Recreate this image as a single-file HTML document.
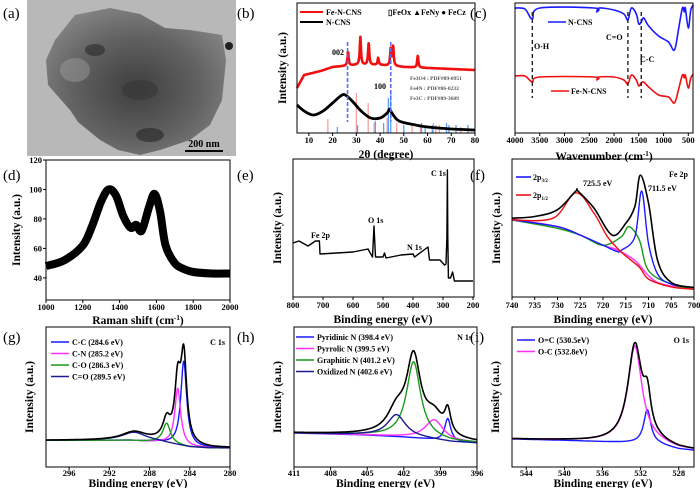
<!DOCTYPE html>
<html><head><meta charset="utf-8">
<style>
html,body{margin:0;padding:0;background:#fff;}
svg{display:block;font-family:"Liberation Serif",serif;}
.tk{font-size:8.5px;font-weight:bold;}
.ti{font-size:11.5px;font-weight:bold;}
.pl{font-size:15px;}
.lg{font-size:8px;font-weight:bold;}
</style></head>
<body>
<svg id="fig" width="700" height="488" viewBox="0 0 700 488">
<defs>
<radialGradient id="tem" cx="0.5" cy="0.55" r="0.6">
<stop offset="0" stop-color="#3e3e3e"/><stop offset="0.6" stop-color="#626262"/><stop offset="1" stop-color="#848484"/>
</radialGradient>
</defs>
<g>
<rect x="27" y="0" width="209" height="156" fill="#b8b8b8"/>
<path d="M55,40 L75,15 L110,8 L140,14 L165,28 L190,30 L222,35 L226,60 L222,100 L210,125 L190,140 L160,150 L140,155 L118,150 L100,140 L78,122 L70,110 L48,85 L46,60 Z" fill="url(#tem)"/>
<ellipse cx="95" cy="50" rx="10" ry="6" fill="#2a2a2a" opacity="0.6"/>
<ellipse cx="150" cy="135" rx="14" ry="7" fill="#262626" opacity="0.6"/>
<ellipse cx="140" cy="90" rx="18" ry="10" fill="#333" opacity="0.5"/>
<ellipse cx="75" cy="70" rx="15" ry="12" fill="#9a9a9a" opacity="0.5"/>
<circle cx="229" cy="46" r="4" fill="#222"/>
<line x1="185" y1="151" x2="223" y2="151" stroke="#000" stroke-width="2"/>
<text x="204" y="147" text-anchor="middle" style="font-size:10px;font-weight:bold">200 nm</text>
</g>
<text class="pl" x="3" y="18">(a)</text>
<text class="pl" x="237" y="18">(b)</text>
<text class="pl" x="470" y="18">(c)</text>
<text class="pl" x="3" y="180">(d)</text>
<text class="pl" x="237" y="180">(e)</text>
<text class="pl" x="470" y="180">(f)</text>
<text class="pl" x="3" y="342">(g)</text>
<text class="pl" x="237" y="342">(h)</text>
<text class="pl" x="470" y="342">(i)</text>
</svg>
<script>
// ---- (b) XRD data ----
const xrdRedBaseX=[5,8,15,20,30,40,50,60,70,80];
const xrdRedBaseY=[45,58,62,66,68,68,66,65,64,63];
const xrdRedPeakPos=[26.5,31.7,35.2,39.2,44.5,45.5,55.9];
const xrdRedPeakH=[14,28,22,7,17,19,12];
const xrdBlackX=[5,8,12,16,20,24,26,29,32,36,40,43,44,45,48,55,60,70,80];
const xrdBlackY=[28,22,18,22,30,38,37,30,22,15,15,20,24,20,12,8,6,4,3];
const refFe3O4Pos=[18,30,35,37.5,43,47,53.5,57,62.5,63.5,65,74];
const refFe3O4H=[14,40,30,10,15,10,8,8,10,8,8,6];
const refFe4NPos=[22,30.5,38,41.5,43.5,44.5,50,57.5,59,62,68,69,72,77];
const refFe4NH=[6,8,12,10,35,40,8,10,6,8,10,8,8,8];
const xrdTicks=[10,20,30,40,50,60,70,80];
// ---- (c) FTIR ----
const ftirX=[4000,3800,3650,3500,2400,2350,2300,2000,1800,1720,1650,1550,1500,1450,1400,1300,1100,900,780,700,620,580,560,500,450,400];
const ftirBlue=[125,124,114,125,125,121,125,123,119,113,125,119,109,111,115,107,97,91,83,103,125,121,125,105,123,128];
const ftirRed=[57,57,51,56,56,53,56,56,53,49,58,53,47,50,51,46,38,36,30,43,58,55,58,45,55,59];
const ftirTicks=[4000,3500,3000,2500,2000,1500,1000,500];
// ---- (d) Raman ----
const ramanX=[1000,1100,1200,1250,1300,1340,1380,1420,1460,1490,1520,1560,1590,1620,1650,1700,1750,1800,1900,2000];
const ramanY=[48,52,62,75,92,100,96,82,74,76,72,88,97,85,62,50,46,44,43,43];
const ramanXTicks=[1000,1200,1400,1600,1800,2000];
const ramanYTicks=[40,60,80,100,120];
// ---- (e) survey ----
const surveyX=[800,780,750,725,712,710,600,550,535,530,525,500,495,490,440,400,395,350,345,310,295,290,287,285.5,284,282,275,268,262,200];
const surveyY=[54,56,51,56,56,43,45,48,40,71,40,40,44,39,42,43,40,50,37,37,32,33,60,127,60,19,19,25,16,16];
const surveyTicks=[800,700,600,500,400,300,200];
// ---- (f) Fe 2p ----
const fe2pX=[740,735,730,726,725.5,722,718,715,713,711.8,710,708,705,700];
const fe2pEnv=[233,238,258,313,313,263,183,218,268,360,278,108,43,28];
const fe2pRedX=[740,731,726,722,719,716,712,710,705,700];
const fe2pRed=[228,233,308,248,178,133,88,53,30,23];
const fe2pBlueX=[740,730,725,720,717,716,713,711.5,710,708,705,700];
const fe2pBlue=[228,208,183,153,135,138,178,313,158,68,38,28];
const fe2pGreenX=[740,730,725,720,716,714.3,712,710,705,700];
const fe2pGreen=[228,203,183,153,178,208,168,78,38,23];
const fe2pBgX=[740,730,725,720,717,713,710,707,700];
const fe2pBg=[230,208,183,153,140,108,63,38,23];
const fe2pTicks=[740,735,730,725,720,715,710,705,700];
// ---- (g) C 1s ----
const c1sBaseX=[298.3,290,287,285,284,282,280];
const c1sBaseY=[80,80,75,65,60,57,57];
const c1sCenters=[284.6,285.2,286.3,289.5];
const c1sHeights=[255,170,60,25];
const c1sWidths=[0.35,0.35,0.45,1.5];
const c1sTicks=[296,292,288,284,280];
// ---- (h) N 1s ----
const n1sBaseX=[411,405,402,400,398,396];
const n1sBaseY=[34,32,30,28,25,24];
const n1sCenters=[398.4,399.5,401.2,402.6];
const n1sHeights=[23,20,76,22];
const n1sWidths=[0.3,0.9,0.7,0.9];
const n1sTicks=[411,408,405,402,399,396];
// ---- (i) O 1s ----
const o1sBaseX=[545.5,540,535,532,530,528,526.4];
const o1sBaseY=[84,80,75,72,67,54,50];
const o1sCenters=[531.3,532.6];
const o1sHeights=[102,290];
const o1sWidths=[0.45,0.9];
const o1sTicks=[544,540,536,532,528];

const NS='http://www.w3.org/2000/svg';
const svg=document.getElementById('fig');
function lin(d0,d1,r0,r1){return v=>r0+(v-d0)*(r1-r0)/(d1-d0);}
function interp(xs,ys,x){
  let a=xs.map((v,i)=>[v,ys[i]]).sort((p,q)=>p[0]-q[0]);
  if(x<=a[0][0])return a[0][1];
  for(let i=1;i<a.length;i++){if(x<=a[i][0]){const t=(x-a[i-1][0])/(a[i][0]-a[i-1][0]);return a[i-1][1]+t*(a[i][1]-a[i-1][1]);}}
  return a[a.length-1][1];
}
function lor(x,c,h,w){return h/(1+((x-c)/w)*((x-c)/w));}
function el(tag,attrs,parent){const e=document.createElementNS(NS,tag);for(const k in attrs)e.setAttribute(k,attrs[k]);(parent||svg).appendChild(e);return e;}
function smoothPath(pts){
  let d='M'+pts[0][0].toFixed(1)+','+pts[0][1].toFixed(1);
  for(let i=0;i<pts.length-1;i++){
    const p0=pts[i-1]||pts[i],p1=pts[i],p2=pts[i+1],p3=pts[i+2]||p2;
    const c1=[p1[0]+(p2[0]-p0[0])/6,p1[1]+(p2[1]-p0[1])/6],c2=[p2[0]-(p3[0]-p1[0])/6,p2[1]-(p3[1]-p1[1])/6];
    d+='C'+c1[0].toFixed(1)+','+c1[1].toFixed(1)+' '+c2[0].toFixed(1)+','+c2[1].toFixed(1)+' '+p2[0].toFixed(1)+','+p2[1].toFixed(1);
  }
  return d;
}
function linPath(pts){return 'M'+pts.map(p=>p[0].toFixed(1)+','+p[1].toFixed(1)).join('L');}
function drawLine(d,color,w,name,extra){
  const p=el('path',Object.assign({d:d,fill:'none',stroke:color,'stroke-width':w,'stroke-linejoin':'round'},extra||{}));
  
  
  return p;
}
function txt(x,y,s,cls,name,anchor,extra){
  const t=el('text',Object.assign({x:x,y:y,'class':cls,'text-anchor':anchor||'start'},extra||{}));
  t.textContent=s;
  
  
  return t;
}
function frame(x0,y0,x1,y1,name){
  const r=el('rect',{x:x0,y:y0,width:x1-x0,height:y1-y0,fill:'none',stroke:'#000','stroke-width':1});
  
  
}
function xTicks(ticks,sx,y1,ly,name){
  ticks.forEach(t=>{
    const l=el('line',{x1:sx(t),x2:sx(t),y1:y1,y2:y1+3,stroke:'#000','stroke-width':1});
    
    
    txt(sx(t),ly,String(t),'tk',name+'-tick-label','middle');
  });
}
function sampled(d0,d1,n,fn,sx,sy){const a=[];for(let i=0;i<=n;i++){const x=d0+(d1-d0)*i/n;a.push([sx(x),sy(fn(x))]);}return a;}
function yTitle(x,y,name){txt(x,y,'Intensity (a.u.)','ti',name,'middle',{transform:'rotate(-90 '+x+' '+y+')'});}

// ===== (b) =====
(function(){
  const sx=lin(5,80,297,475), sy=lin(0,130,133,3);
  refFe3O4Pos.forEach((p,i)=>{const l=el('line',{x1:sx(p),x2:sx(p),y1:133,y2:133-refFe3O4H[i],stroke:'#f5a0a0','stroke-width':1.3});});
  refFe4NPos.forEach((p,i)=>{const l=el('line',{x1:sx(p),x2:sx(p),y1:133,y2:133-refFe4NH[i],stroke:'#5aa0f0','stroke-width':1.3});});
  const red=x=>interp(xrdRedBaseX,xrdRedBaseY,x)+xrdRedPeakPos.reduce((s,c,i)=>s+lor(x,c,xrdRedPeakH[i],0.3),0);
  drawLine(linPath(sampled(5,80,500,red,sx,sy)),'#f01010',2.6,'xrd-fe-n-cns-line');
  const blk=xrdBlackX.map((x,i)=>[sx(x),sy(xrdBlackY[i])]);
  drawLine(smoothPath(blk),'#000',2.8,'xrd-n-cns-line');
  [26.3,44.5].forEach(p=>{const l=el('line',{x1:sx(p),x2:sx(p),y1:42,y2:122,stroke:'#5a6cf0','stroke-width':1.6,'stroke-dasharray':'4,2'});});
  frame(297,3,475,133,'xrd-plot-frame');
  xTicks(xrdTicks,sx,133,143,'xrd-x');
  txt(386,158,'2θ (degree)','ti','xrd-x-axis-title','middle');
  yTitle(286,68,'xrd-y-axis-title');
  drawLine('M300,12 L323,12','#f01010',2,'legend-fe-n-cns-swatch');
  txt(326,15,'Fe-N-CNS','lg','legend-fe-n-cns','start');
  drawLine('M300,22 L323,22','#000',2,'legend-n-cns-swatch');
  txt(326,25,'N-CNS','lg','legend-n-cns','start');
  txt(388,15,'▯FeOx  ▲FeNy  ● FeCz','lg','phase-legend','start');
  txt(332,55,'002','lg','label-002','start');
  txt(374,89,'100','lg','label-100','start');
  txt(410,80,'Fe3O4 : PDF#89-0951','lg','ref-fe3o4-label','start',{style:'font-size:5.5px;fill:#555'});
  txt(410,90,'Fe4N : PDF#86-0232','lg','ref-fe4n-label','start',{style:'font-size:5.5px;fill:#555'});
  txt(410,100,'Fe3C : PDF#89-3689','lg','ref-fe3c-label','start',{style:'font-size:5.5px;fill:#555'});
})();

// ===== (c) =====
(function(){
  const sx=lin(4000,500,515,688.3), sy=lin(0,130,133,3);
  drawLine(smoothPath(ftirX.map((x,i)=>[sx(x),sy(ftirBlue[i])])),'#1a1aff',1.6,'ftir-n-cns-line');
  drawLine(smoothPath(ftirX.map((x,i)=>[sx(x),sy(ftirRed[i])])),'#f01010',1.6,'ftir-fe-n-cns-line');
  [3650,1720,1450].forEach(p=>{const l=el('line',{x1:sx(p),x2:sx(p),y1:12,y2:98,stroke:'#222','stroke-width':1.4,'stroke-dasharray':'4,3'});});
  frame(515,3,693,133,'ftir-plot-frame');
  xTicks(ftirTicks,sx,133,143,'ftir-x');
  const t=txt(604,160,'Wavenumber (cm','ti','ftir-x-axis-title','middle');
  const ts=el('tspan',{dy:-4,style:'font-size:7px'},t);ts.textContent='-1';
  const ts2=el('tspan',{dy:4},t);ts2.textContent=')';
  drawLine('M548,22 L566,22','#1a1aff',1.6,'legend-ftir-n-cns-swatch');
  txt(568,25,'N-CNS','lg','legend-ftir-n-cns','start');
  drawLine('M551,91 L569,91','#f01010',1.6,'legend-ftir-fe-n-cns-swatch');
  txt(571,94,'Fe-N-CNS','lg','legend-ftir-fe-n-cns','start');
  txt(534,49,'O-H','lg','label-oh','start');
  txt(606,40,'C=O','lg','label-co','start');
  txt(640,62,'C-C','lg','label-cc','start');
})();

// ===== (d) =====
(function(){
  const sx=lin(1000,2000,46,230), sy=lin(25,120,300,160);
  drawLine(smoothPath(ramanX.map((x,i)=>[sx(x),sy(ramanY[i])])),'#000',8,'raman-line');
  frame(46,160,230,300,'raman-plot-frame');
  xTicks(ramanXTicks,sx,300,310,'raman-x');
  ramanYTicks.forEach(t=>{txt(42,sy(t)+3,String(t),'tk','raman-y-tick-label','end');const l=el('line',{x1:43,x2:46,y1:sy(t),y2:sy(t),stroke:'#000'});});
  const t=txt(138,324,'Raman shift (cm','ti','raman-x-axis-title','middle');
  const ts=el('tspan',{dy:-4,style:'font-size:7px'},t);ts.textContent='-1';
  const ts2=el('tspan',{dy:4},t);ts2.textContent=')';
  yTitle(20,230,'raman-y-axis-title');
})();

// ===== (e) =====
(function(){
  const sx=lin(800,200,293,473), sy=lin(0,138,297,159);
  drawLine(linPath(surveyX.map((x,i)=>[sx(x),sy(surveyY[i])])),'#000',1.4,'survey-line');
  frame(293,159,474,297,'survey-plot-frame');
  xTicks(surveyTicks,sx,297,308,'survey-x');
  txt(383,323,'Binding energy (eV)','ti','survey-x-axis-title','middle');
  yTitle(281,228,'survey-y-axis-title');
  txt(311,238,'Fe 2p','lg','label-fe2p','start');
  txt(368,223,'O 1s','lg','label-o1s','start');
  txt(407,250,'N 1s','lg','label-n1s','start');
  txt(431,176,'C 1s','lg','label-c1s','start');
})();

// ===== (f) =====
(function(){
  const sx=lin(740,700,512,694), sy=lin(0,408,297,159);
  const mk=(xs,ys)=>smoothPath(xs.map((x,i)=>[sx(x),sy(ys[i])]));
  drawLine(mk(fe2pBgX,fe2pBg),'#ff40ff',1.6,'fe2p-background-line');
  drawLine(mk(fe2pGreenX,fe2pGreen),'#1a9a1a',1.4,'fe2p-satellite-line');
  drawLine(mk(fe2pBlueX,fe2pBlue),'#1a1aff',1.4,'fe2p-2p32-line');
  drawLine(mk(fe2pRedX,fe2pRed),'#f01010',1.4,'fe2p-2p12-line');
  drawLine(mk(fe2pX,fe2pEnv),'#000',1.6,'fe2p-envelope-line');
  frame(512,159,694,297,'fe2p-plot-frame');
  xTicks(fe2pTicks,sx,297,308,'fe2p-x');
  txt(603,323,'Binding energy (eV)','ti','fe2p-x-axis-title','middle');
  yTitle(500,228,'fe2p-y-axis-title');
  drawLine('M516,177 L531,177','#1a1aff',1.6,'legend-2p32-swatch');
  const a=txt(533,180,'2p','lg','legend-2p32','start');const s1=el('tspan',{dy:2,style:'font-size:5px'},a);s1.textContent='3/2';
  drawLine('M516,195 L531,195','#f01010',1.6,'legend-2p12-swatch');
  const b=txt(533,198,'2p','lg','legend-2p12','start');const s2=el('tspan',{dy:2,style:'font-size:5px'},b);s2.textContent='1/2';
  txt(583,186,'725.5 eV','lg','label-725','start');
  txt(648,191,'711.5 eV','lg','label-711','start');
  txt(669,177,'Fe 2p','lg','label-fe2p-title','start');
})();

// ===== XPS component panels =====
function xpsPanel(d0,d1,x0,x1,y0,y1,vmax,baseX,baseY,centers,heights,widths,colors,ticks,prefix,legend,legendX,legendY,corner){
  const sx=lin(d0,d1,x0,x1), sy=lin(0,vmax,y1,y0);
  const base=x=>interp(baseX,baseY,x);
  centers.forEach((c,i)=>{
    drawLine(linPath(sampled(d0,d1,400,x=>base(x)+lor(x,c,heights[i],widths[i]),sx,sy)),colors[i],1.4,prefix+'-component-'+i);
  });
  drawLine(linPath(sampled(d0,d1,400,x=>base(x)+centers.reduce((s,c,i)=>s+lor(x,c,heights[i],widths[i]),0),sx,sy)),'#000',1.6,prefix+'-envelope-line');
  frame(x0,y0,x1,y1,prefix+'-plot-frame');
  xTicks(ticks,sx,y1,476,prefix+'-x');
  txt((x0+x1)/2,487,'Binding energy (eV)','ti',prefix+'-x-axis-title','middle');
  yTitle(x0-13,(y0+y1)/2,prefix+'-y-axis-title');
  legend.forEach((s,i)=>{
    drawLine('M'+legendX+','+(legendY+i*11.5)+' L'+(legendX+18)+','+(legendY+i*11.5),colors[i],1.6,prefix+'-legend-swatch');
    txt(legendX+21,legendY+i*11.5+3,s,'lg',prefix+'-legend-entry','start');
  });
  txt(x1-5,legendY+3,corner,'lg',prefix+'-corner-title','end');
}
xpsPanel(298.3,280,46,230,327,467,420,c1sBaseX,c1sBaseY,c1sCenters,c1sHeights,c1sWidths,['#1a1aff','#ff30ff','#1a9a1a','#1a1a90'],c1sTicks,'c1s',
 ['C-C (284.6 eV)','C-N (285.2 eV)','C-O (286.3 eV)','C=O (289.5 eV)'],51,342,'C 1s');
xpsPanel(411,396,294,477,327,467,140,n1sBaseX,n1sBaseY,n1sCenters,n1sHeights,n1sWidths,['#1a1aff','#ff30ff','#1a9a1a','#1a1a90'],n1sTicks,'n1s',
 ['Pyridinic N (398.4 eV)','Pyrrolic N (399.5 eV)','Graphitic N (401.2 eV)','Oxidized N (402.6 eV)'],296,337,'N 1s');
xpsPanel(545.5,526.4,512,694,327,467,420,o1sBaseX,o1sBaseY,o1sCenters,o1sHeights,o1sWidths,['#1a1aff','#ff30ff'],o1sTicks,'o1s',
 ['O=C (530.5eV)','O-C (532.8eV)'],517,340,'O 1s');
</script>
</body></html>
